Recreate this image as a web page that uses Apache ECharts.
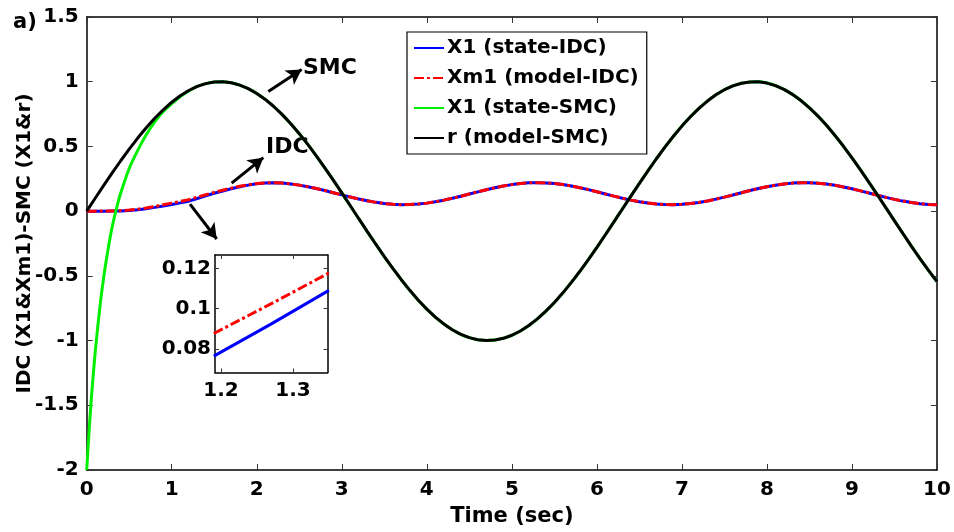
<!DOCTYPE html>
<html><head><meta charset="utf-8">
<script src="https://cdn.jsdelivr.net/npm/echarts@6/dist/echarts.min.js"></script>
<style>html,body{margin:0;padding:0;background:#fff}#c{width:954px;height:532px}</style>
</head><body><div id="c"></div>
<script>
// ---- data ----
const tMain = [0,0.1,0.2,0.3,0.4,0.5,0.6,0.7,0.8,0.9,1,1.1,1.2,1.3,1.4,1.5,1.6,1.7,1.8,1.9,2,2.1,2.2,2.3,2.4,2.5,2.6,2.7,2.8,2.9,3,3.1,3.2,3.3,3.4,3.5,3.6,3.7,3.8,3.9,4,4.1,4.2,4.3,4.4,4.5,4.6,4.7,4.8,4.9,5,5.1,5.2,5.3,5.4,5.5,5.6,5.7,5.8,5.9,6,6.1,6.2,6.3,6.4,6.5,6.6,6.7,6.8,6.9,7,7.1,7.2,7.3,7.4,7.5,7.6,7.7,7.8,7.9,8,8.1,8.2,8.3,8.4,8.5,8.6,8.7,8.8,8.9,9,9.1,9.2,9.3,9.4,9.5,9.6,9.7,9.8,9.9,10];
const rModelSmc = [0,0.0998,0.1987,0.2955,0.3894,0.4794,0.5646,0.6442,0.7174,0.7833,0.8415,0.8912,0.9320,0.9636,0.9854,0.9975,0.9996,0.9917,0.9738,0.9463,0.9093,0.8632,0.8085,0.7457,0.6755,0.5985,0.5155,0.4274,0.3350,0.2392,0.1411,0.0416,-0.0584,-0.1577,-0.2555,-0.3508,-0.4425,-0.5298,-0.6119,-0.6878,-0.7568,-0.8183,-0.8716,-0.9162,-0.9516,-0.9775,-0.9937,-0.9999,-0.9962,-0.9825,-0.9589,-0.9258,-0.8835,-0.8323,-0.7728,-0.7055,-0.6313,-0.5507,-0.4646,-0.3739,-0.2794,-0.1822,-0.0831,0.0168,0.1165,0.2151,0.3115,0.4048,0.4941,0.5784,0.6570,0.7290,0.7937,0.8504,0.8987,0.9380,0.9679,0.9882,0.9985,0.9989,0.9894,0.9699,0.9407,0.9022,0.8546,0.7985,0.7344,0.6630,0.5849,0.5010,0.4121,0.3191,0.2229,0.1245,0.0248,-0.0752,-0.1743,-0.2718,-0.3665,-0.4575,-0.5440];
const x1Idc = [0,0,0,0.001,0.002,0.005,0.011,0.019,0.029,0.040,0.052,0.064,0.077,0.098,0.119,0.138,0.156,0.173,0.188,0.201,0.211,0.2175,0.2197,0.2167,0.2104,0.2011,0.1891,0.1750,0.1594,0.1427,0.1257,0.1092,0.0935,0.0796,0.0679,0.0589,0.0528,0.0502,0.0508,0.0548,0.0620,0.0722,0.0849,0.0995,0.1155,0.1323,0.1492,0.1655,0.1806,0.1940,0.2050,0.2133,0.2185,0.2200,0.2183,0.2132,0.2053,0.1944,0.1812,0.1660,0.1497,0.1328,0.1160,0.1000,0.0852,0.0725,0.0621,0.0549,0.0509,0.0502,0.0527,0.0585,0.0674,0.0790,0.0928,0.1084,0.1252,0.1421,0.1589,0.1747,0.1888,0.2007,0.2101,0.2165,0.2197,0.2194,0.2159,0.2090,0.1993,0.1869,0.1725,0.1566,0.1398,0.1229,0.1064,0.0911,0.0776,0.0663,0.0577,0.0522,0.0500];
const xm1Idc = [0,0,0.001,0.002,0.004,0.008,0.015,0.025,0.036,0.049,0.062,0.075,0.088,0.108,0.127,0.145,0.162,0.178,0.192,0.204,0.213,0.218,0.2197,0.2167,0.2104,0.2011,0.1891,0.1750,0.1594,0.1427,0.1257,0.1092,0.0935,0.0796,0.0679,0.0589,0.0528,0.0502,0.0508,0.0548,0.0620,0.0722,0.0849,0.0995,0.1155,0.1323,0.1492,0.1655,0.1806,0.1940,0.2050,0.2133,0.2185,0.2200,0.2183,0.2132,0.2053,0.1944,0.1812,0.1660,0.1497,0.1328,0.1160,0.1000,0.0852,0.0725,0.0621,0.0549,0.0509,0.0502,0.0527,0.0585,0.0674,0.0790,0.0928,0.1084,0.1252,0.1421,0.1589,0.1747,0.1888,0.2007,0.2101,0.2165,0.2197,0.2194,0.2159,0.2090,0.1993,0.1869,0.1725,0.1566,0.1398,0.1229,0.1064,0.0911,0.0776,0.0663,0.0577,0.0522,0.0500];
const tSmcState = [0,0.025,0.05,0.075,0.1,0.15,0.2,0.25,0.3,0.35,0.4,0.5,0.6,0.7,0.8,0.9,1,1.1,1.2,1.3,1.4,1.5,1.6,1.7,1.8,1.9,2,2.1,2.2,2.3,2.4,2.5,2.6,2.7,2.8,2.9,3,3.1,3.2,3.3,3.4,3.5,3.6,3.7,3.8,3.9,4,4.1,4.2,4.3,4.4,4.5,4.6,4.7,4.8,4.9,5,5.1,5.2,5.3,5.4,5.5,5.6,5.7,5.8,5.9,6,6.1,6.2,6.3,6.4,6.5,6.6,6.7,6.8,6.9,7,7.1,7.2,7.3,7.4,7.5,7.6,7.7,7.8,7.9,8,8.1,8.2,8.3,8.4,8.5,8.6,8.7,8.8,8.9,9,9.1,9.2,9.3,9.4,9.5,9.6,9.7,9.8,9.9,10];
const x1Smc = [-2.0,-1.73,-1.49,-1.28,-1.09,-0.77,-0.51,-0.30,-0.12,0.02,0.14,0.33,0.47,0.59,0.69,0.77,0.83,0.885,0.928,0.9636,0.9854,0.9975,0.9996,0.9917,0.9738,0.9463,0.9093,0.8632,0.8085,0.7457,0.6755,0.5985,0.5155,0.4274,0.3350,0.2392,0.1411,0.0416,-0.0584,-0.1577,-0.2555,-0.3508,-0.4425,-0.5298,-0.6119,-0.6878,-0.7568,-0.8183,-0.8716,-0.9162,-0.9516,-0.9775,-0.9937,-0.9999,-0.9962,-0.9825,-0.9589,-0.9258,-0.8835,-0.8323,-0.7728,-0.7055,-0.6313,-0.5507,-0.4646,-0.3739,-0.2794,-0.1822,-0.0831,0.0168,0.1165,0.2151,0.3115,0.4048,0.4941,0.5784,0.6570,0.7290,0.7937,0.8504,0.8987,0.9380,0.9679,0.9882,0.9985,0.9989,0.9894,0.9699,0.9407,0.9022,0.8546,0.7985,0.7344,0.6630,0.5849,0.5010,0.4121,0.3191,0.2229,0.1245,0.0248,-0.0752,-0.1743,-0.2718,-0.3665,-0.4575,-0.5440];
// zoomed inset
const tInset = [1.19,1.27,1.35];
const x1IdcInset = [0.0765,0.0925,0.1091];
const xm1IdcInset = [0.0877,0.1025,0.1177];
const xTicksInset = [1.2,1.3];
const yTicksInset = [0.08,0.1,0.12];

const F = '"DejaVu Sans", Verdana, sans-serif';
const pairs = (xs, ys) => xs.map((x, i) => [x, ys[i]]);
const lbl = (sz) => ({fontFamily: F, fontWeight: 'bold', fontSize: sz, color: '#000'});

function axis(opts) {
  return Object.assign({
    type: 'value',
    axisLine: {show: true, onZero: false, lineStyle: {color: '#000', width: 1.5}},
    axisTick: {show: true, inside: true, length: 6, lineStyle: {color: '#333', width: 1}},
    splitLine: {show: false},
    axisLabel: {show: false}
  }, opts);
}

const chart = echarts.init(document.getElementById('c'));
const option = {
  animation: false,
  backgroundColor: '#fff',
  title: {text: 'a)', left: 13, top: 12, padding: 0, textStyle: lbl(21)},
  legend: {
    orient: 'vertical', left: 407, top: 32,
    data: ['X1 (state-IDC)', 'Xm1 (model-IDC)', 'X1 (state-SMC)', 'r (model-SMC)'],
    itemWidth: 30, itemHeight: 8, itemGap: 6,
    padding: [4, 8, 4, 6],
    itemStyle: {opacity: 0},
    backgroundColor: '#fff', borderColor: '#000', borderWidth: 1.2,
    textStyle: Object.assign(lbl(20), {lineHeight: 24, padding: [0, 0, 0, -2]})
  },
  grid: [
    {left: 86.7, right: 17, top: 17, bottom: 59.5},
    {left: 215, top: 255, width: 112.5, height: 117.5, show: true, backgroundColor: '#fff', borderWidth: 0}
  ],
  xAxis: [
    axis({gridIndex: 0, min: 0, max: 10, interval: 1, position: 'bottom',
      axisLabel: Object.assign(lbl(20), {show: true, margin: 10}),
      name: 'Time (sec)', nameLocation: 'middle', nameGap: 36, nameMoveOverlap: false, nameTextStyle: lbl(21)}),
    axis({gridIndex: 0, min: 0, max: 10, interval: 1, position: 'top'}),
    axis({gridIndex: 1, min: 1.1917, max: 1.348, position: 'bottom',
      axisTick: {show: true, inside: true, length: 4, customValues: xTicksInset, lineStyle: {color: '#333'}},
      axisLabel: Object.assign(lbl(20), {show: true, margin: 8, customValues: xTicksInset})}),
    axis({gridIndex: 1, min: 1.1917, max: 1.348, position: 'top',
      axisTick: {show: true, inside: true, length: 4, customValues: xTicksInset, lineStyle: {color: '#333'}}})
  ],
  yAxis: [
    axis({gridIndex: 0, min: -2, max: 1.5, interval: 0.5, position: 'left',
      axisLabel: Object.assign(lbl(20), {show: true, margin: 8}),
      name: 'IDC (X1&Xm1)-SMC (X1&r)', nameLocation: 'middle', nameGap: 52, nameRotate: 90, nameMoveOverlap: false, nameTextStyle: lbl(20)}),
    axis({gridIndex: 0, min: -2, max: 1.5, interval: 0.5, position: 'right'}),
    axis({gridIndex: 1, min: 0.0684, max: 0.1266, position: 'left',
      axisTick: {show: true, inside: true, length: 4, customValues: yTicksInset, lineStyle: {color: '#333'}},
      axisLabel: Object.assign(lbl(20), {show: true, margin: 4, customValues: yTicksInset})}),
    axis({gridIndex: 1, min: 0.0684, max: 0.1266, position: 'right',
      axisTick: {show: true, inside: true, length: 4, customValues: yTicksInset, lineStyle: {color: '#333'}}})
  ],
  series: [
    {name: 'X1 (state-IDC)', type: 'line', xAxisIndex: 0, yAxisIndex: 0, data: pairs(tMain, x1Idc),
      symbol: 'none', lineStyle: {color: '#0000ff', width: 3}, itemStyle: {color: '#0000ff'}},
    {name: 'Xm1 (model-IDC)', type: 'line', xAxisIndex: 0, yAxisIndex: 0, data: pairs(tMain, xm1Idc),
      symbol: 'none', lineStyle: {color: '#ff0000', width: 3, type: [10, 3, 3, 3]}, itemStyle: {color: '#ff0000'}},
    {name: 'X1 (state-SMC)', type: 'line', xAxisIndex: 0, yAxisIndex: 0, data: pairs(tSmcState, x1Smc),
      smooth: 0.25, symbol: 'none', lineStyle: {color: '#00ee00', width: 3}, itemStyle: {color: '#00ee00'}},
    {name: 'r (model-SMC)', type: 'line', xAxisIndex: 0, yAxisIndex: 0, data: pairs(tMain, rModelSmc),
      symbol: 'none', lineStyle: {color: '#000', width: 3}, itemStyle: {color: '#000'}},
    {name: 'X1 (state-IDC)', type: 'line', xAxisIndex: 2, yAxisIndex: 2, data: pairs(tInset, x1IdcInset),
      symbol: 'none', lineStyle: {color: '#0000ff', width: 3}},
    {name: 'Xm1 (model-IDC)', type: 'line', xAxisIndex: 2, yAxisIndex: 2, data: pairs(tInset, xm1IdcInset),
      symbol: 'none', lineStyle: {color: '#ff0000', width: 3, type: [10, 3, 3, 3]}},
    {name: 'annot', type: 'scatter', xAxisIndex: 0, yAxisIndex: 0, symbolSize: 0,
      itemStyle: {color: '#000'}, silent: true,
      data: [{value: [2.544, 1.106], name: 'SMC'}, {value: [2.11, 0.496], name: 'IDC'}],
      label: Object.assign(lbl(22), {show: true, position: 'right', distance: 0, opacity: 1, formatter: p => p.name}),
      markLine: {
        silent: true, symbol: ['none', 'arrow'], symbolSize: [13, 15],
        label: {show: false},
        lineStyle: {color: '#000', width: 3, type: 'solid', opacity: 1},
        data: [
          [{coord: [2.136, 0.924]}, {coord: [2.528, 1.094]}],
          [{coord: [1.705, 0.216]}, {coord: [2.077, 0.413]}],
          [{coord: [1.215, 0.054]}, {coord: [1.529, -0.215]}]
        ]
      }}
  ]
};
chart.setOption(option);
</script></body></html>
